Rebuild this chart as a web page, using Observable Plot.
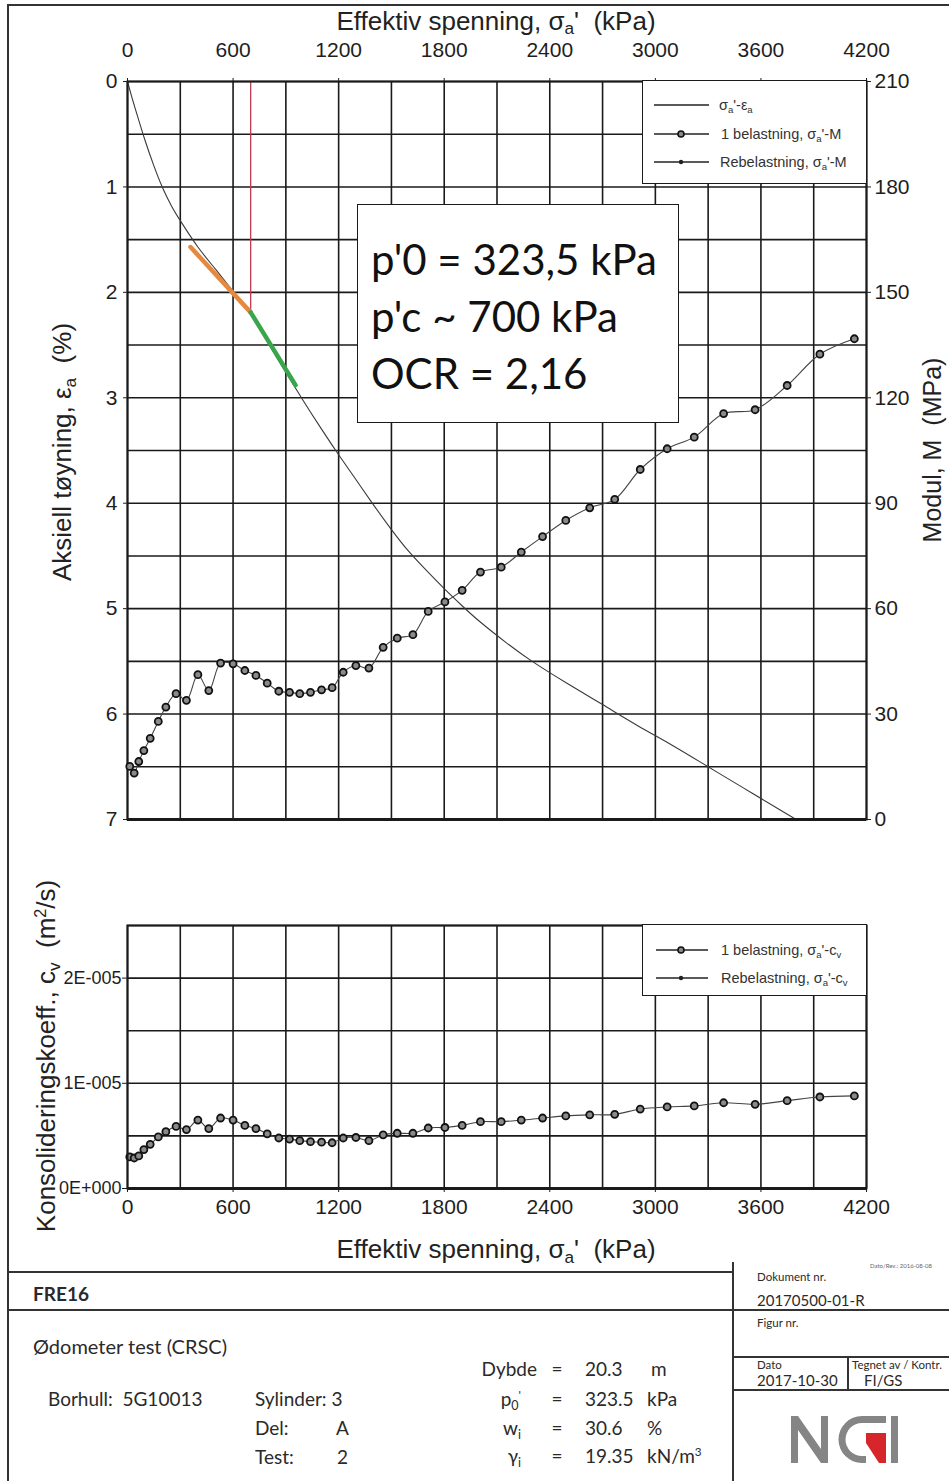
<!DOCTYPE html>
<html lang="no">
<head>
<meta charset="utf-8">
<title>Ødometer test (CRSC) – FRE16</title>
<script src="https://cdn.jsdelivr.net/npm/d3@7"></script>
<script src="https://cdn.jsdelivr.net/npm/@observablehq/plot@0.6"></script>
<style>
  html, body { margin: 0; padding: 0; background: #fff; }
  #sheet { position: relative; width: 949px; height: 1481px; overflow: hidden; background: #fff;
           font-family: "Liberation Sans", Arial, sans-serif; color: #1e1e1e; }
  #sheet > * { position: absolute; }
  .plotbox { left: 0; width: 949px; }
  .plotbox svg { display: block; }
  sub { font-size: 0.66em; vertical-align: -0.32em; line-height: 0; }
  sup { font-size: 0.62em; vertical-align: 0.55em; line-height: 0; }
  .axis-title { font-size: 26px; white-space: nowrap; line-height: 1; color: #222; }
  .axis-title.top sub { vertical-align: -0.22em; }
  .rot { transform: translate(-50%, -50%) rotate(-90deg); }
  .hc { transform: translate(-50%, -50%); }
  .legend { background: #fff; border: 1.5px solid #1a1a1a; box-sizing: border-box; }
  .legend svg { position: absolute; left: 0; top: 0; }
  .legend span { position: absolute; font-size: 14.5px; color: #333; white-space: nowrap; line-height: 1;
                 transform: translateY(-50%); }
  .note { background: #fff; border: 1.5px solid #1a1a1a; box-sizing: border-box;
          font-family: Lato, "Open Sans", sans-serif; color: #111; }
  .note div { position: absolute; left: 13px; font-size: 42px; line-height: 1; white-space: nowrap;
              transform: translateY(-50%); }
  .tb { font-family: Lato, "Open Sans", sans-serif; color: #2a2a2a; white-space: nowrap; line-height: 1;
        transform: translateY(-50%); }
  .tr { transform: translate(-100%, -50%); }
  .tcx { transform: translate(-50%, -50%); }
</style>
</head>
<body>
<div id="sheet">
  <div id="strainPlot" class="plotbox" style="top:0"></div>
  <div id="modulusPlot" class="plotbox" style="top:0"></div>
  <div id="cvPlot" class="plotbox" style="top:900px"></div>
</div>
<script>
// ---------------------------------------------------------------------------
// Axis ticks
const stressTicks = [0, 600, 1200, 1800, 2400, 3000, 3600, 4200];
const strainTicks = [0, 1, 2, 3, 4, 5, 6, 7];
const modulusTicks = [0, 30, 60, 90, 120, 150, 180, 210];
const cvTicks = [0, 1e-5, 2e-5];
const cvTickLabels = ["0E+000", "1E-005", "2E-005"];

// Stress–strain curve: effective axial stress σa' (kPa) and axial strain εa (%)
const curveStress = [0, 25, 50, 100, 150, 200, 250, 300, 400, 500, 600, 700, 800, 900, 1000, 1100, 1200,
  1300, 1400, 1500, 1600, 1700, 1800, 1900, 2000, 2150, 2300, 2500, 2700, 2900, 3100, 3300, 3500, 3700, 3800];
const curveStrain = [0, 0.15, 0.29, 0.56, 0.80, 1.01, 1.18, 1.32, 1.57, 1.78, 1.99, 2.20, 2.48, 2.76, 3.03,
  3.29, 3.54, 3.78, 4.02, 4.25, 4.46, 4.64, 4.81, 4.97, 5.12, 5.32, 5.50, 5.71, 5.91, 6.11, 6.30, 6.50, 6.70,
  6.90, 7.0];

// First loading: stress steps (kPa), oedometer modulus M (MPa), consolidation coefficient cv (1e-6 m²/s)
const loadStress = [13, 38, 64, 93, 129, 175, 218, 276, 335, 400, 462, 529, 600, 667, 730, 794, 860, 921,
  979, 1040, 1103, 1163, 1226, 1298, 1372, 1453, 1533, 1622, 1709, 1804, 1902, 2006, 2124, 2238, 2359, 2491,
  2627, 2769, 2914, 3067, 3221, 3388, 3567, 3749, 3935, 4131];
const modulus = [15.1, 13.2, 16.5, 19.6, 23.1, 27.9, 32.0, 35.8, 33.9, 41.2, 36.7, 44.5, 44.3, 42.4, 41.0,
  38.8, 36.5, 36.2, 35.8, 36.2, 36.9, 37.5, 41.9, 43.8, 43.1, 49.0, 51.6, 52.6, 59.2, 61.9, 65.2, 70.4, 71.8,
  76.1, 80.5, 85.1, 88.7, 91.1, 99.6, 105.5, 108.8, 115.5, 116.6, 123.5, 132.4, 136.8];
const cvMicro = [3.0, 2.9, 3.1, 3.7, 4.2, 4.9, 5.4, 5.9, 5.6, 6.5, 5.7, 6.7, 6.5, 6.0, 5.7, 5.2, 4.8, 4.7,
  4.55, 4.45, 4.4, 4.35, 4.8, 4.85, 4.55, 5.1, 5.25, 5.25, 5.75, 5.8, 6.0, 6.35, 6.35, 6.5, 6.7, 6.9, 7.0,
  7.05, 7.55, 7.75, 7.85, 8.15, 8.0, 8.35, 8.7, 8.8];

// Preconsolidation interpretation: two tangents meeting at p'c
const reloadStress = [358, 700];
const reloadStrain = [1.57, 2.19];
const virginStress = [700, 955];
const virginStrain = [2.19, 2.88];
const p0 = 323.5;   // in situ effective stress, kPa
const pc = 700;     // preconsolidation stress, kPa
const ocr = 2.16;

// ---------------------------------------------------------------------------
const curve = curveStress.map((s, i) => ({stress: s, strain: curveStrain[i]}));
const loading = loadStress.map((s, i) => ({stress: s, M: modulus[i], cv: cvMicro[i] * 1e-6}));
const reload = reloadStress.map((s, i) => ({stress: s, strain: reloadStrain[i]}));
const virgin = virginStress.map((s, i) => ({stress: s, strain: virginStrain[i]}));

const gridStress = d3.range(0, 4201, 300);
const gridStrain = d3.range(0, 15).map(i => i * 0.5);
const gridCv = d3.range(0, 6).map(i => i * 5e-6);

const fontFamily = '"Liberation Sans", Arial, sans-serif';
const ink = "#1a1a1a";
const plain = d => String(d);
const frame = {width: 949, marginLeft: 127, marginRight: 83};
const style = {background: "transparent", fontFamily, color: "#1e1e1e", overflow: "visible"};
const dotStyle = {r: 3.5, fill: "#8a8a8a", stroke: "#111", strokeWidth: 1.8};

// Upper panel: stress–strain curve, left axis in %, stress axis on top
const strainPlot = Plot.plot({
  ...frame, height: 840, marginTop: 81, marginBottom: 21, style,
  x: {domain: [0, 4200]},
  y: {domain: [0, 7], reverse: true},
  marks: [
    Plot.ruleX(gridStress, {stroke: ink, strokeWidth: 1.6}),
    Plot.ruleY(gridStrain, {stroke: ink, strokeWidth: 1.6}),
    Plot.ruleX([pc], {x: d => d, y1: 0, y2: reloadStrain[1], stroke: "#c43a55", strokeWidth: 1.3}),
    Plot.line(curve, {x: "stress", y: "strain", curve: "natural", stroke: "#3a3a3a", strokeWidth: 1.1}),
    Plot.line(reload, {x: "stress", y: "strain", stroke: "#e6893f", strokeWidth: 4.5}),
    Plot.line(virgin, {x: "stress", y: "strain", stroke: "#3aa64c", strokeWidth: 4.5}),
    Plot.frame({stroke: ink, strokeWidth: 2}),
    Plot.ruleY([7], {stroke: ink, strokeWidth: 3}),
    Plot.axisX({anchor: "top", ticks: stressTicks, tickFormat: plain, tickSize: 4, tickPadding: 21,
                fontSize: 21, label: null}),
    Plot.axisY({anchor: "left", ticks: strainTicks, tickFormat: plain, tickSize: 4, tickPadding: 6,
                fontSize: 21, label: null})
  ]
});
document.getElementById("strainPlot").append(strainPlot);

// Upper panel overlay: oedometer modulus on the right-hand axis
const modulusPlot = Plot.plot({
  ...frame, height: 840, marginTop: 81, marginBottom: 21, style,
  x: {domain: [0, 4200], axis: null},
  y: {domain: [0, 210]},
  marks: [
    Plot.line(loading, {x: "stress", y: "M", curve: "catmull-rom", stroke: "#444", strokeWidth: 1.1}),
    Plot.dot(loading, {x: "stress", y: "M", ...dotStyle}),
    Plot.axisY({anchor: "right", ticks: modulusTicks, tickFormat: plain, tickSize: 4, tickPadding: 4,
                fontSize: 21, label: null})
  ]
});
document.getElementById("modulusPlot").append(modulusPlot);

// Lower panel: coefficient of consolidation
const cvPlot = Plot.plot({
  ...frame, height: 330, marginTop: 25, marginBottom: 42, style,
  x: {domain: [0, 4200]},
  y: {domain: [0, 2.5e-5]},
  marks: [
    Plot.ruleX(gridStress, {stroke: ink, strokeWidth: 1.6}),
    Plot.ruleY(gridCv, {stroke: ink, strokeWidth: 1.6}),
    Plot.line(loading, {x: "stress", y: "cv", curve: "catmull-rom", stroke: "#444", strokeWidth: 1.1}),
    Plot.dot(loading, {x: "stress", y: "cv", ...dotStyle}),
    Plot.frame({stroke: ink, strokeWidth: 2}),
    Plot.ruleY([0], {stroke: ink, strokeWidth: 3}),
    Plot.axisX({anchor: "bottom", ticks: stressTicks, tickFormat: plain, tickSize: 4, tickPadding: 7,
                fontSize: 21, label: null}),
    Plot.axisY({anchor: "left", ticks: cvTicks, tickFormat: d => cvTickLabels[cvTicks.indexOf(d)],
                tickSize: 5, tickPadding: 1, fontSize: 18, label: null})
  ]
});
document.getElementById("cvPlot").append(cvPlot);

// ---------------------------------------------------------------------------
// Axis titles, legends, interpretation box and title block
const comma = v => String(v).replace(".", ",");
const sheet = document.getElementById("sheet");
const sigma = "σ<sub>a</sub>'";

sheet.insertAdjacentHTML("beforeend", `
  <div class="axis-title top hc" style="left:496px;top:21px">Effektiv spenning, ${sigma} &nbsp;(kPa)</div>
  <div class="axis-title hc" style="left:496px;top:1249px">Effektiv spenning, ${sigma} &nbsp;(kPa)</div>
  <div class="axis-title rot" style="left:62px;top:452px">Aksiell tøyning, ε<sub>a</sub> &nbsp;(%)</div>
  <div class="axis-title rot" style="left:932px;top:450px;font-size:25px">Modul, M &nbsp;(MPa)</div>
  <div class="axis-title rot" style="left:46px;top:1056px">Konsolideringskoeff., c<sub>v</sub> &nbsp;(m<sup>2</sup>/s)</div>

  <div class="legend" style="left:642px;top:80px;width:225px;height:104px">
    <svg width="225" height="104">
      <g stroke="#222" stroke-width="1.3">
        <line x1="11" x2="66" y1="24" y2="24"/>
        <line x1="11" x2="66" y1="53" y2="53"/>
        <line x1="11" x2="66" y1="81" y2="81"/>
      </g>
      <circle cx="38" cy="53" r="3" fill="#8a8a8a" stroke="#111" stroke-width="1.6"/>
      <circle cx="38" cy="81" r="2.2" fill="#222"/>
    </svg>
    <span style="left:76px;top:24px">${sigma}-ε<sub>a</sub></span>
    <span style="left:78px;top:53px">1 belastning, ${sigma}-M</span>
    <span style="left:77px;top:81px">Rebelastning, ${sigma}-M</span>
  </div>

  <div class="legend" style="left:642px;top:924px;width:225px;height:72px">
    <svg width="225" height="72">
      <g stroke="#222" stroke-width="1.3">
        <line x1="13" x2="65" y1="25" y2="25"/>
        <line x1="13" x2="65" y1="53" y2="53"/>
      </g>
      <circle cx="38" cy="25" r="3" fill="#8a8a8a" stroke="#111" stroke-width="1.6"/>
      <circle cx="38" cy="53" r="2.2" fill="#222"/>
    </svg>
    <span style="left:78px;top:25px">1 belastning, ${sigma}-c<sub>v</sub></span>
    <span style="left:78px;top:53px">Rebelastning, ${sigma}-c<sub>v</sub></span>
  </div>

  <div class="note" style="left:357px;top:204px;width:322px;height:219px">
    <div style="top:54px">p'0 = ${comma(p0)} kPa</div>
    <div style="top:111px">p'c ~ ${pc} kPa</div>
    <div style="top:168px">OCR = ${comma(ocr)}</div>
  </div>

  <svg style="left:0;top:0" width="949" height="1481">
    <g stroke="#333" stroke-width="2" fill="none">
      <path d="M8,1481V5H949"/>
      <path d="M8,1272H733M8,1310H949M733,1262V1481M733,1357H949M733,1390H949M848,1357V1390"/>
    </g>
    <g fill="#858585">
      <path d="M791,1463V1416h7l23,33v-33h7v47h-7l-23,-33v33z"/>
      <path d="M886,1416v7h-24a16.5,16.5 0 0 0 0,33h4v7h-4a23.5,23.5 0 0 1 0,-47z"/>
      <rect x="891" y="1416" width="7" height="47"/>
    </g>
    <path d="M866,1433H886V1463H879L866,1443z" fill="#d7262b"/>
  </svg>

  <div class="tb" style="left:870px;top:1266px;font-size:6px;color:#666">Dato/Rev.: 2016-08-08</div>
  <div class="tb" style="left:33px;top:1293px;font-size:19px;font-weight:700">FRE16</div>
  <div class="tb" style="left:33px;top:1346px;font-size:20px">Ødometer test (CRSC)</div>
  <div class="tb" style="left:48px;top:1398px;font-size:19px">Borhull:&nbsp; 5G10013</div>
  <div class="tb" style="left:255px;top:1398px;font-size:19px">Sylinder: 3</div>
  <div class="tb" style="left:255px;top:1427px;font-size:19px">Del:</div>
  <div class="tb" style="left:336px;top:1427px;font-size:19px">A</div>
  <div class="tb" style="left:255px;top:1456px;font-size:19px">Test:</div>
  <div class="tb" style="left:337px;top:1456px;font-size:19px">2</div>

  <div class="tb tr" style="left:537px;top:1368px;font-size:19px">Dybde</div>
  <div class="tb tr" style="left:521px;top:1398px;font-size:19px">p<sub>0</sub><sup>'</sup></div>
  <div class="tb tr" style="left:521px;top:1427px;font-size:19px">w<sub>i</sub></div>
  <div class="tb tr" style="left:521px;top:1455px;font-size:19px">γ<sub>i</sub></div>
  <div class="tb tcx" style="left:557px;top:1368px;font-size:19px">=</div>
  <div class="tb tcx" style="left:557px;top:1398px;font-size:19px">=</div>
  <div class="tb tcx" style="left:557px;top:1427px;font-size:19px">=</div>
  <div class="tb tcx" style="left:557px;top:1455px;font-size:19px">=</div>
  <div class="tb" style="left:585px;top:1368px;font-size:19px">20.3</div>
  <div class="tb" style="left:585px;top:1398px;font-size:19px">${p0}</div>
  <div class="tb" style="left:585px;top:1427px;font-size:19px">30.6</div>
  <div class="tb" style="left:585px;top:1455px;font-size:19px">19.35</div>
  <div class="tb" style="left:651px;top:1368px;font-size:19px">m</div>
  <div class="tb" style="left:647px;top:1398px;font-size:19px">kPa</div>
  <div class="tb" style="left:647px;top:1427px;font-size:19px">%</div>
  <div class="tb" style="left:647px;top:1455px;font-size:19px">kN/m<sup>3</sup></div>

  <div class="tb" style="left:757px;top:1277px;font-size:11.5px">Dokument nr.</div>
  <div class="tb" style="left:757px;top:1300px;font-size:15px">20170500-01-R</div>
  <div class="tb" style="left:757px;top:1323px;font-size:11.5px">Figur nr.</div>
  <div class="tb" style="left:757px;top:1365px;font-size:11.5px">Dato</div>
  <div class="tb" style="left:757px;top:1380px;font-size:15px">2017-10-30</div>
  <div class="tb" style="left:852px;top:1365px;font-size:11.5px">Tegnet av / Kontr.</div>
  <div class="tb" style="left:864px;top:1380px;font-size:15px">FI/GS</div>
`);
</script>
</body>
</html>
